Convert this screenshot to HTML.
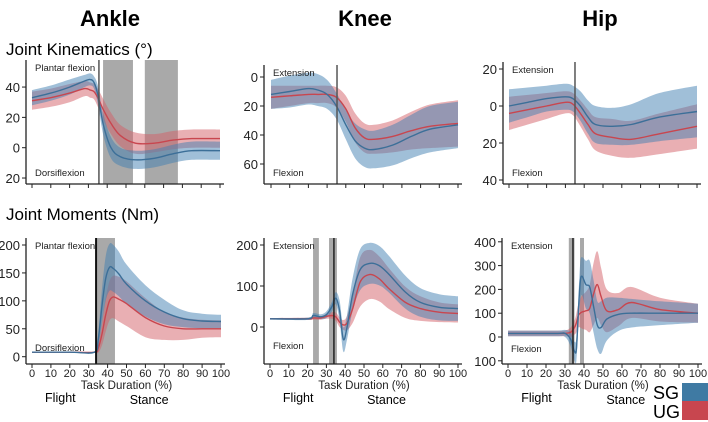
<!DOCTYPE html>
<html><head><meta charset="utf-8">
<style>
body{margin:0;background:#fff;}
svg{display:block;font-family:"Liberation Sans",Arial,sans-serif;}
</style></head>
<body>
<svg id="fig" width="708" height="422" viewBox="0 0 708 422" xmlns="http://www.w3.org/2000/svg">
<text x="110" y="26" font-size="22" font-weight="bold" text-anchor="middle">Ankle</text>
<text x="365" y="26" font-size="22" font-weight="bold" text-anchor="middle">Knee</text>
<text x="600" y="26" font-size="22" font-weight="bold" text-anchor="middle">Hip</text>
<text x="6" y="55" font-size="17">Joint Kinematics (°)</text>
<text x="6" y="220" font-size="17">Joint Moments (Nm)</text>
<text x="653" y="399" font-size="18">SG</text>
<rect x="682" y="383" width="26" height="18" fill="#3f7aa3"/>
<text x="653" y="418" font-size="18">UG</text>
<rect x="682" y="401" width="26" height="19" fill="#c8464f"/>
</svg>
<script>
// ---------- DATA ----------
// Ankle kinematics
const akX   =[0,10,20,28,31,33,35,38,42,47,55,65,75,85,100];
const akSG  =[33,36,40,44,45,43,35,15,0,-6,-8,-7,-4,-2,-2];
const akSGsd=[5,5,5,4,4,4,6,7,7,6,6,6,6,6,6];
const akUG  =[31,33,36,39,38,37,33,25,16,8,3,3,5,6,6];
const akUGsd=[6,6,6,5,5,5,6,7,7,7,7,6,6,6,6];
// Ankle moments
const amX   =[0,20,33,35,37,39,41,43,46,50,60,70,80,90,100];
const amSG  =[8,8,8,30,90,140,160,158,148,130,100,80,68,64,63];
const amSGsd=[0,0,1,12,30,40,42,42,40,35,28,22,15,13,12];
const amUG  =[8,8,8,15,40,75,100,107,103,95,70,55,50,50,50];
const amUGsd=[0,0,1,8,20,30,35,38,40,40,35,25,20,16,15];
// Knee kinematics
const kkX   =[0,10,20,25,30,35,40,45,50,55,65,75,85,100];
const kkSG  =[12,10,8,9,12,20,33,44,49,50,47,41,36,33];
const kkSGsd=[10,11,11,11,10,9,10,12,13,13,14,15,16,16];
const kkUG  =[14,13,12,12,12,14,22,35,42,43,41,37,34,32];
const kkUGsd=[8,7,6,6,6,7,9,10,10,10,11,13,15,16];
// Hip kinematics
const hkX   =[0,10,20,30,34,38,42,46,55,65,80,100];
const hkSG  =[0,2,4,5,4,0,-6,-10,-11,-10,-6,-3];
const hkSGsd=[9,8,7,7,7,8,9,10,10,11,13,14];
const hkUG  =[-4,-2,0,2,1,-4,-10,-15,-17,-18,-15,-11];
const hkUGsd=[9,8,7,6,6,7,8,9,10,10,11,12];
// Knee moments
const kmX   =[0,20,23,27,30,33,35,37,39,41,44,48,53,58,63,72,80,90,100];
const kmSG  =[20,20,28,25,30,50,70,40,-30,0,80,140,155,150,130,85,60,48,45];
const kmSGsd=[2,3,6,6,8,12,15,25,30,30,40,50,50,48,45,40,35,32,30];
const kmUG  =[20,20,22,22,26,28,25,12,5,10,45,110,128,118,95,60,45,36,33];
const kmUGsd=[2,3,4,4,6,8,10,12,12,18,35,60,60,55,50,38,30,24,22];
// Hip moments
const hmX   =[0,25,30,33,35,36,37,38,39,41,43,45,47,49,52,58,65,80,100];
const hmSG  =[15,15,15,-10,-60,-50,100,230,255,220,210,130,50,40,75,95,100,100,100];
const hmSGsd=[12,12,15,30,40,50,60,80,80,100,110,110,100,110,90,70,60,50,40];
const hmUG  =[15,15,15,20,40,60,90,100,105,110,120,180,220,170,110,115,145,115,100];
const hmUGsd=[12,12,12,20,30,40,50,60,70,80,100,130,140,120,90,70,65,50,40];

// ---------- DRAWING ----------
const svg=document.getElementById('fig');
const NS='http://www.w3.org/2000/svg';
function mk(tag,attrs,parent){const e=document.createElementNS(NS,tag);for(const k in attrs)e.setAttribute(k,attrs[k]);(parent||svg).appendChild(e);return e;}
function smooth(pts){let d='M'+pts[0][0].toFixed(1)+','+pts[0][1].toFixed(1);
 for(let i=0;i<pts.length-1;i++){const p0=pts[Math.max(0,i-1)],p1=pts[i],p2=pts[i+1],p3=pts[Math.min(pts.length-1,i+2)];
  const c1=[p1[0]+(p2[0]-p0[0])/6,p1[1]+(p2[1]-p0[1])/6],c2=[p2[0]-(p3[0]-p1[0])/6,p2[1]-(p3[1]-p1[1])/6];
  d+='C'+c1.map(v=>v.toFixed(1))+' '+c2.map(v=>v.toFixed(1))+' '+p2.map(v=>v.toFixed(1));}
 return d;}
function smoothCont(pts){return smooth(pts).replace(/^M/,'L');}

function panel(cfg){
 const g=mk('g',{});
 
 
 const sx=v=>cfg.x0+v*(cfg.x100-cfg.x0)/100;
 const sy=v=>cfg.yZero-v*cfg.ppu*cfg.dir;
 (cfg.bands||[]).forEach((b,i)=>{const r=mk('rect',{x:sx(b[0]),y:cfg.top,width:sx(b[1])-sx(b[0]),height:cfg.bottom-cfg.top,fill:'#a9a9a9'},g);
  
  });
 const series=[[cfg.ug,cfg.ugsd,'rgba(212,96,104,0.5)','#c8464f','ug'],[cfg.sg,cfg.sgsd,'rgba(66,128,178,0.5)','#3c6f98','sg']];
 series.forEach(s=>{
  const up=cfg.xs.map((x,i)=>[sx(x),sy(s[0][i]+s[1][i])]);
  const lo=cfg.xs.map((x,i)=>[sx(x),sy(s[0][i]-s[1][i])]).reverse();
  const b=mk('path',{d:smooth(up)+smoothCont(lo)+'Z',fill:s[2]},g);
  
  
 });
 series.forEach(s=>{
  const m=mk('path',{d:smooth(cfg.xs.map((x,i)=>[sx(x),sy(s[0][i])])),fill:'none',stroke:s[3],'stroke-width':1.4},g);
  
  
 });
 const vl=mk('line',{x1:sx(cfg.vline),x2:sx(cfg.vline),y1:cfg.top,y2:cfg.bottom,stroke:cfg.vcol,'stroke-width':cfg.vw},g);
 
 
 const ya=mk('line',{x1:cfg.ax,x2:cfg.ax,y1:cfg.top,y2:cfg.bottom,stroke:'#222','stroke-width':1.3},g);
 
 
 const xa=mk('line',{x1:cfg.ax,x2:sx(100)+4,y1:cfg.bottom,y2:cfg.bottom,stroke:'#222','stroke-width':1.3},g);
 
 
 for(let t=0;t<=100;t+=10){
  mk('line',{x1:sx(t),x2:sx(t),y1:cfg.bottom,y2:cfg.bottom+4,stroke:'#222','stroke-width':1},g);
  if(cfg.xlabels){const tl=mk('text',{x:sx(t),y:cfg.bottom+13,'font-size':11,'text-anchor':'middle',fill:'#222'},g);tl.textContent=t;
   
   }
 }
 cfg.yticks.forEach(v=>{
  mk('line',{x1:cfg.ax-4,x2:cfg.ax,y1:sy(v),y2:sy(v),stroke:'#222','stroke-width':1},g);
  const tl=mk('text',{x:cfg.ax-6,y:sy(v)+5,'font-size':13,'text-anchor':'end',fill:'#222'},g);tl.textContent=Math.abs(v);
  
  
 });
 const a=mk('text',{x:cfg.ax+9,y:cfg.top+11,'font-size':9.5,fill:'#222'},g);a.textContent=cfg.topLab;
 
 
 const b=mk('text',{x:cfg.ax+9,y:cfg.botLabY,'font-size':9.5,fill:'#222'},g);b.textContent=cfg.botLab;
 
 
 if(cfg.xlabels){
  const t=mk('text',{x:(sx(0)+sx(100))/2,y:cfg.bottom+25,'font-size':11.5,'text-anchor':'middle',fill:'#222'},g);t.textContent='Task Duration (%)';
  
  
  const f=mk('text',{x:sx(15),y:cfg.bottom+38,'font-size':12.5,'text-anchor':'middle'},g);f.textContent='Flight';
  
  
  const s=mk('text',{x:sx(62),y:cfg.bottom+40,'font-size':12.5,'text-anchor':'middle'},g);s.textContent='Stance';
  
  
 }
}

panel({name:'ankle-kinematics-panel',x0:32,x100:220,ax:26,top:60,bottom:184,yZero:147.7,ppu:1.516,dir:1,
 xs:akX,sg:akSG,sgsd:akSGsd,ug:akUG,ugsd:akUGsd,bands:[[37.8,53.7],[60,77.6]],vline:35.6,vcol:'#555',vw:1.5,
 yticks:[40,20,0,-20],topLab:'Plantar flexion',botLab:'Dorsiflexion',botLabY:176,xlabels:false});
panel({name:'ankle-moments-panel',x0:32,x100:221,ax:26,top:238,bottom:364,yZero:356.7,ppu:0.5585,dir:1,
 xs:amX,sg:amSG,sgsd:amSGsd,ug:amUG,ugsd:amUGsd,bands:[[33.9,43.9]],vline:33.9,vcol:'#111',vw:2,
 yticks:[200,150,100,50,0],topLab:'Plantar flexion',botLab:'Dorsiflexion',botLabY:351,xlabels:true});
panel({name:'knee-kinematics-panel',x0:271,x100:458,ax:264,top:65,bottom:184,yZero:77,ppu:1.45,dir:-1,
 xs:kkX,sg:kkSG,sgsd:kkSGsd,ug:kkUG,ugsd:kkUGsd,bands:[],vline:35.3,vcol:'#555',vw:1.5,
 yticks:[0,20,40,60],topLab:'Extension',botLab:'Flexion',botLabY:176,xlabels:false});
panel({name:'knee-moments-panel',x0:270,x100:458,ax:264,top:238,bottom:364,yZero:327,ppu:0.41,dir:1,
 xs:kmX,sg:kmSG,sgsd:kmSGsd,ug:kmUG,ugsd:kmUGsd,bands:[[22.9,26],[31.4,35.6]],vline:34,vcol:'#222',vw:1.5,
 yticks:[200,100,0],topLab:'Extension',botLab:'Flexion',botLabY:349,xlabels:true});
panel({name:'hip-kinematics-panel',x0:509,x100:697,ax:503,top:62,bottom:184,yZero:106,ppu:1.85,dir:1,
 xs:hkX,sg:hkSG,sgsd:hkSGsd,ug:hkUG,ugsd:hkUGsd,bands:[],vline:35.1,vcol:'#555',vw:1.5,
 yticks:[20,0,-20,-40],topLab:'Extension',botLab:'Flexion',botLabY:176,xlabels:false});
panel({name:'hip-moments-panel',x0:508,x100:698,ax:502,top:238,bottom:364,yZero:337,ppu:0.238,dir:1,
 xs:hmX,sg:hmSG,sgsd:hmSGsd,ug:hmUG,ugsd:hmUGsd,bands:[[32,35],[37.9,40]],vline:34.2,vcol:'#222',vw:1.5,
 yticks:[400,300,200,100,0,-100],topLab:'Extension',botLab:'Flexion',botLabY:352,xlabels:true});
</script>
</body></html>
